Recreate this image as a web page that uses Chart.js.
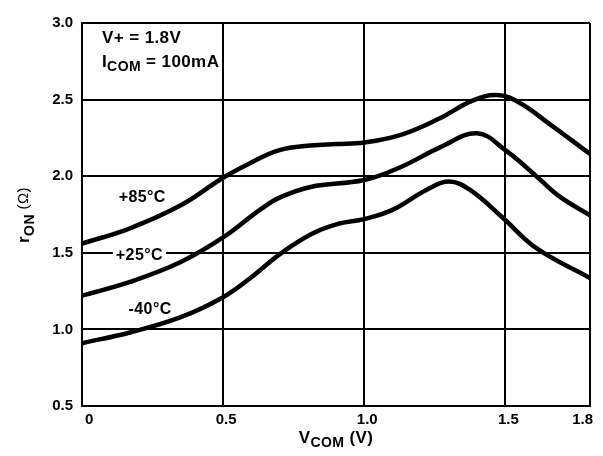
<!DOCTYPE html>
<html>
<head>
<meta charset="utf-8">
<script src="https://cdn.jsdelivr.net/npm/chart.js@4"></script>
<style>
  body { margin: 0; background: #fff; }
  #wrap { width: 603px; height: 456px; }
</style>
</head>
<body>
<div id="wrap"><canvas id="ronChart" width="603" height="456"></canvas></div>
<script>
// Values
const xTicks = [0, 0.5, 1.0, 1.5, 1.8];
const yTicks = [0.5, 1.0, 1.5, 2.0, 2.5, 3.0];

const vcom85 = [0, 0.17, 0.35, 0.5, 0.6, 0.7, 0.81, 0.9, 1.0, 1.13, 1.27, 1.38, 1.47, 1.55, 1.65, 1.8];
const ron85  = [1.56, 1.66, 1.81, 1.99, 2.09, 2.17, 2.20, 2.21, 2.22, 2.27, 2.38, 2.49, 2.53, 2.48, 2.35, 2.145];

const vcom25 = [0, 0.17, 0.35, 0.5, 0.63, 0.7, 0.81, 1.0, 1.13, 1.27, 1.40, 1.5, 1.61, 1.69, 1.8];
const ron25  = [1.22, 1.31, 1.44, 1.6, 1.78, 1.86, 1.93, 1.975, 2.06, 2.19, 2.28, 2.17, 2.0, 1.87, 1.745];

const vcom40 = [0, 0.17, 0.35, 0.5, 0.6, 0.7, 0.81, 0.91, 1.0, 1.1, 1.22, 1.30, 1.375, 1.49, 1.61, 1.8];
const ron40  = [0.91, 0.98, 1.08, 1.21, 1.34, 1.49, 1.62, 1.69, 1.72, 1.78, 1.91, 1.965, 1.91, 1.73, 1.53, 1.335];

const FONT = "'Liberation Sans', Arial, sans-serif";

function pts(xs, ys) {
    return xs.map((x, i) => ({ x: x, y: ys[i] }));
}

function curve(xs, ys) {
    return {
        data: pts(xs, ys),
        showLine: true,
        borderColor: '#000',
        borderWidth: 4.5,
        pointRadius: 0,
        tension: 0.4,
        fill: false
    };
}

// text with subscript helper: parts = [[text, size, weight, dy]]
function drawParts(ctx, parts, x, y) {
    let cx = x;
    parts.forEach(p => {
        ctx.font = p[2] + ' ' + p[1] + 'px ' + FONT;
        ctx.fillText(p[0], cx, y + p[3]);
        cx += ctx.measureText(p[0]).width;
    });
    return cx - x;
}

function partsWidth(ctx, parts) {
    let w = 0;
    parts.forEach(p => {
        ctx.font = p[2] + ' ' + p[1] + 'px ' + FONT;
        w += ctx.measureText(p[0]).width;
    });
    return w;
}

// Labels, conditions and axis titles
const labelsPlugin = {
    id: 'labels',
    afterDraw(chart) {
        const ctx = chart.ctx;
        const xs = chart.scales.x, ys = chart.scales.y;
        ctx.save();
        ctx.fillStyle = '#000';
        ctx.textBaseline = 'middle';
        ctx.textAlign = 'left';
        ctx.letterSpacing = '0.4px';

        const left = chart.chartArea.left;
        drawParts(ctx, [['V+ = 1.8V', 17, 'bold', 0]], left + 20, 38);
        drawParts(ctx, [['I', 17, 'bold', 0], ['COM', 14, 'bold', 5], [' = 100mA', 17, 'bold', 0]], left + 20, 62);

        // temperature labels
        const t85 = [['+85°C', 16, 'bold', 0]];
        const t25 = [['+25°C', 16, 'bold', 0]];
        const t40 = [['-40°C', 16, 'bold', 0]];
        drawParts(ctx, t85, xs.getPixelForValue(0.13), ys.getPixelForValue(1.86));
        const x25 = xs.getPixelForValue(0.12), y25 = ys.getPixelForValue(1.48);
        const w25 = partsWidth(ctx, t25);
        ctx.fillStyle = '#fff';
        ctx.fillRect(x25 - 3, y25 - 8, w25 + 6, 16);
        ctx.fillStyle = '#000';
        drawParts(ctx, t25, x25, y25);
        drawParts(ctx, t40, xs.getPixelForValue(0.165), ys.getPixelForValue(1.13));

        // x title
        const xt = [['V', 17, 'bold', 0], ['COM', 14, 'bold', 5], [' (V)', 17, 'bold', 0]];
        const xw = partsWidth(ctx, xt);
        const xc = (chart.chartArea.left + chart.chartArea.right) / 2;
        drawParts(ctx, xt, xc - xw / 2, 438);

        // y title (rotated)
        const yt = [['r', 17, 'bold', 0], ['ON', 14, 'bold', 6], [' (Ω)', 15, 'normal', 0]];
        const yw = partsWidth(ctx, yt);
        ctx.translate(24, 215);
        ctx.rotate(-Math.PI / 2);
        drawParts(ctx, yt, -yw / 2, 0);
        ctx.restore();
    }
};

new Chart(document.getElementById('ronChart'), {
    type: 'scatter',
    data: {
        datasets: [
            curve(vcom85, ron85),
            curve(vcom25, ron25),
            curve(vcom40, ron40)
        ]
    },
    options: {
        responsive: false,
        animation: false,
        layout: { padding: { left: 0, top: 23, right: 13, bottom: 0 } },
        plugins: {
            legend: { display: false },
            tooltip: { enabled: false }
        },
        scales: {
            x: {
                type: 'linear',
                min: 0,
                max: 1.8,
                afterBuildTicks: s => { s.ticks = xTicks.map(v => ({ value: v })); },
                afterFit: s => { s.height = 50; },
                ticks: {
                    align: 'inner',
                    padding: 5,
                    labelOffset: 3,
                    color: '#000',
                    font: { family: FONT, size: 15, weight: 'bold' },
                    callback: v => v === 0 ? '0' : v.toFixed(1)
                },
                grid: { color: '#000', lineWidth: 2, drawTicks: false },
                border: { color: '#000', width: 2 }
            },
            y: {
                type: 'linear',
                min: 0.5,
                max: 3.0,
                afterBuildTicks: s => { s.ticks = yTicks.map(v => ({ value: v })); },
                afterFit: s => { s.width = 82; },
                ticks: {
                    padding: 9,
                    color: '#000',
                    font: { family: FONT, size: 15, weight: 'bold' },
                    callback: v => v.toFixed(1)
                },
                grid: { color: '#000', lineWidth: 2, drawTicks: false },
                border: { color: '#000', width: 2 }
            }
        }
    },
    plugins: [labelsPlugin]
});
</script>
</body>
</html>
